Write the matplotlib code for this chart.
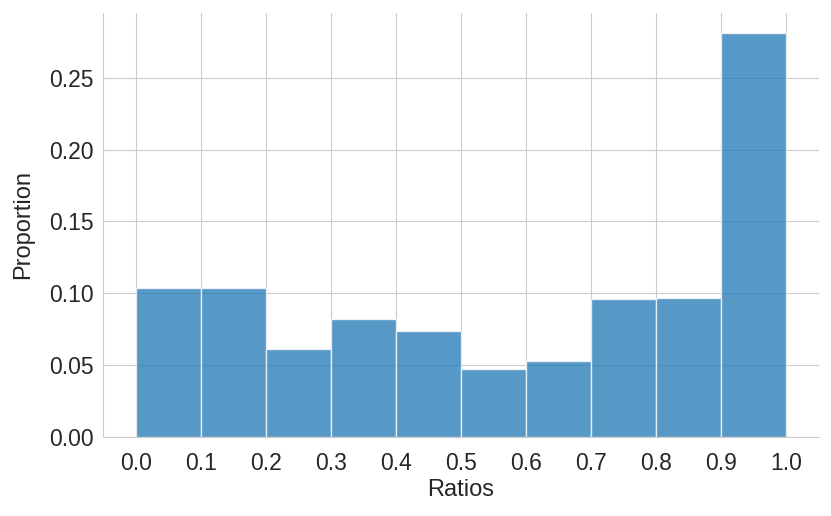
import matplotlib
matplotlib.use("Agg")
import matplotlib.pyplot as plt
import seaborn as sns

bin_edges = [0.0, 0.1, 0.2, 0.3, 0.4, 0.5, 0.6, 0.7, 0.8, 0.9, 1.0]
proportions = [0.104, 0.104, 0.061, 0.082, 0.074, 0.047, 0.053, 0.096, 0.097, 0.281]
x_ticks = [0.0, 0.1, 0.2, 0.3, 0.4, 0.5, 0.6, 0.7, 0.8, 0.9, 1.0]

sns.set_style("whitegrid")
plt.rcParams['font.family'] = ['Arial', 'Liberation Sans', 'DejaVu Sans']

fig, ax = plt.subplots(figsize=(8.31, 5.16), dpi=100)
widths = [bin_edges[i + 1] - bin_edges[i] for i in range(len(proportions))]
ax.bar(bin_edges[:-1], proportions, width=widths, align="edge",
       color="#1f77b4", alpha=0.75, edgecolor="white", linewidth=1)

ax.set_xticks(x_ticks)
ax.set_xticklabels([f"{t:.1f}" for t in x_ticks])
ax.set_xlabel("Ratios", fontsize=17, labelpad=3)
ax.set_ylabel("Proportion", fontsize=17, labelpad=11)
ax.tick_params(labelsize=16.5)
ax.tick_params(axis="x", pad=7)
ax.tick_params(axis="y", pad=3)
ax.set_axisbelow(True)
sns.despine()

fig.subplots_adjust(left=0.124, right=0.985, top=0.975, bottom=0.153)
fig.savefig("out.png")
